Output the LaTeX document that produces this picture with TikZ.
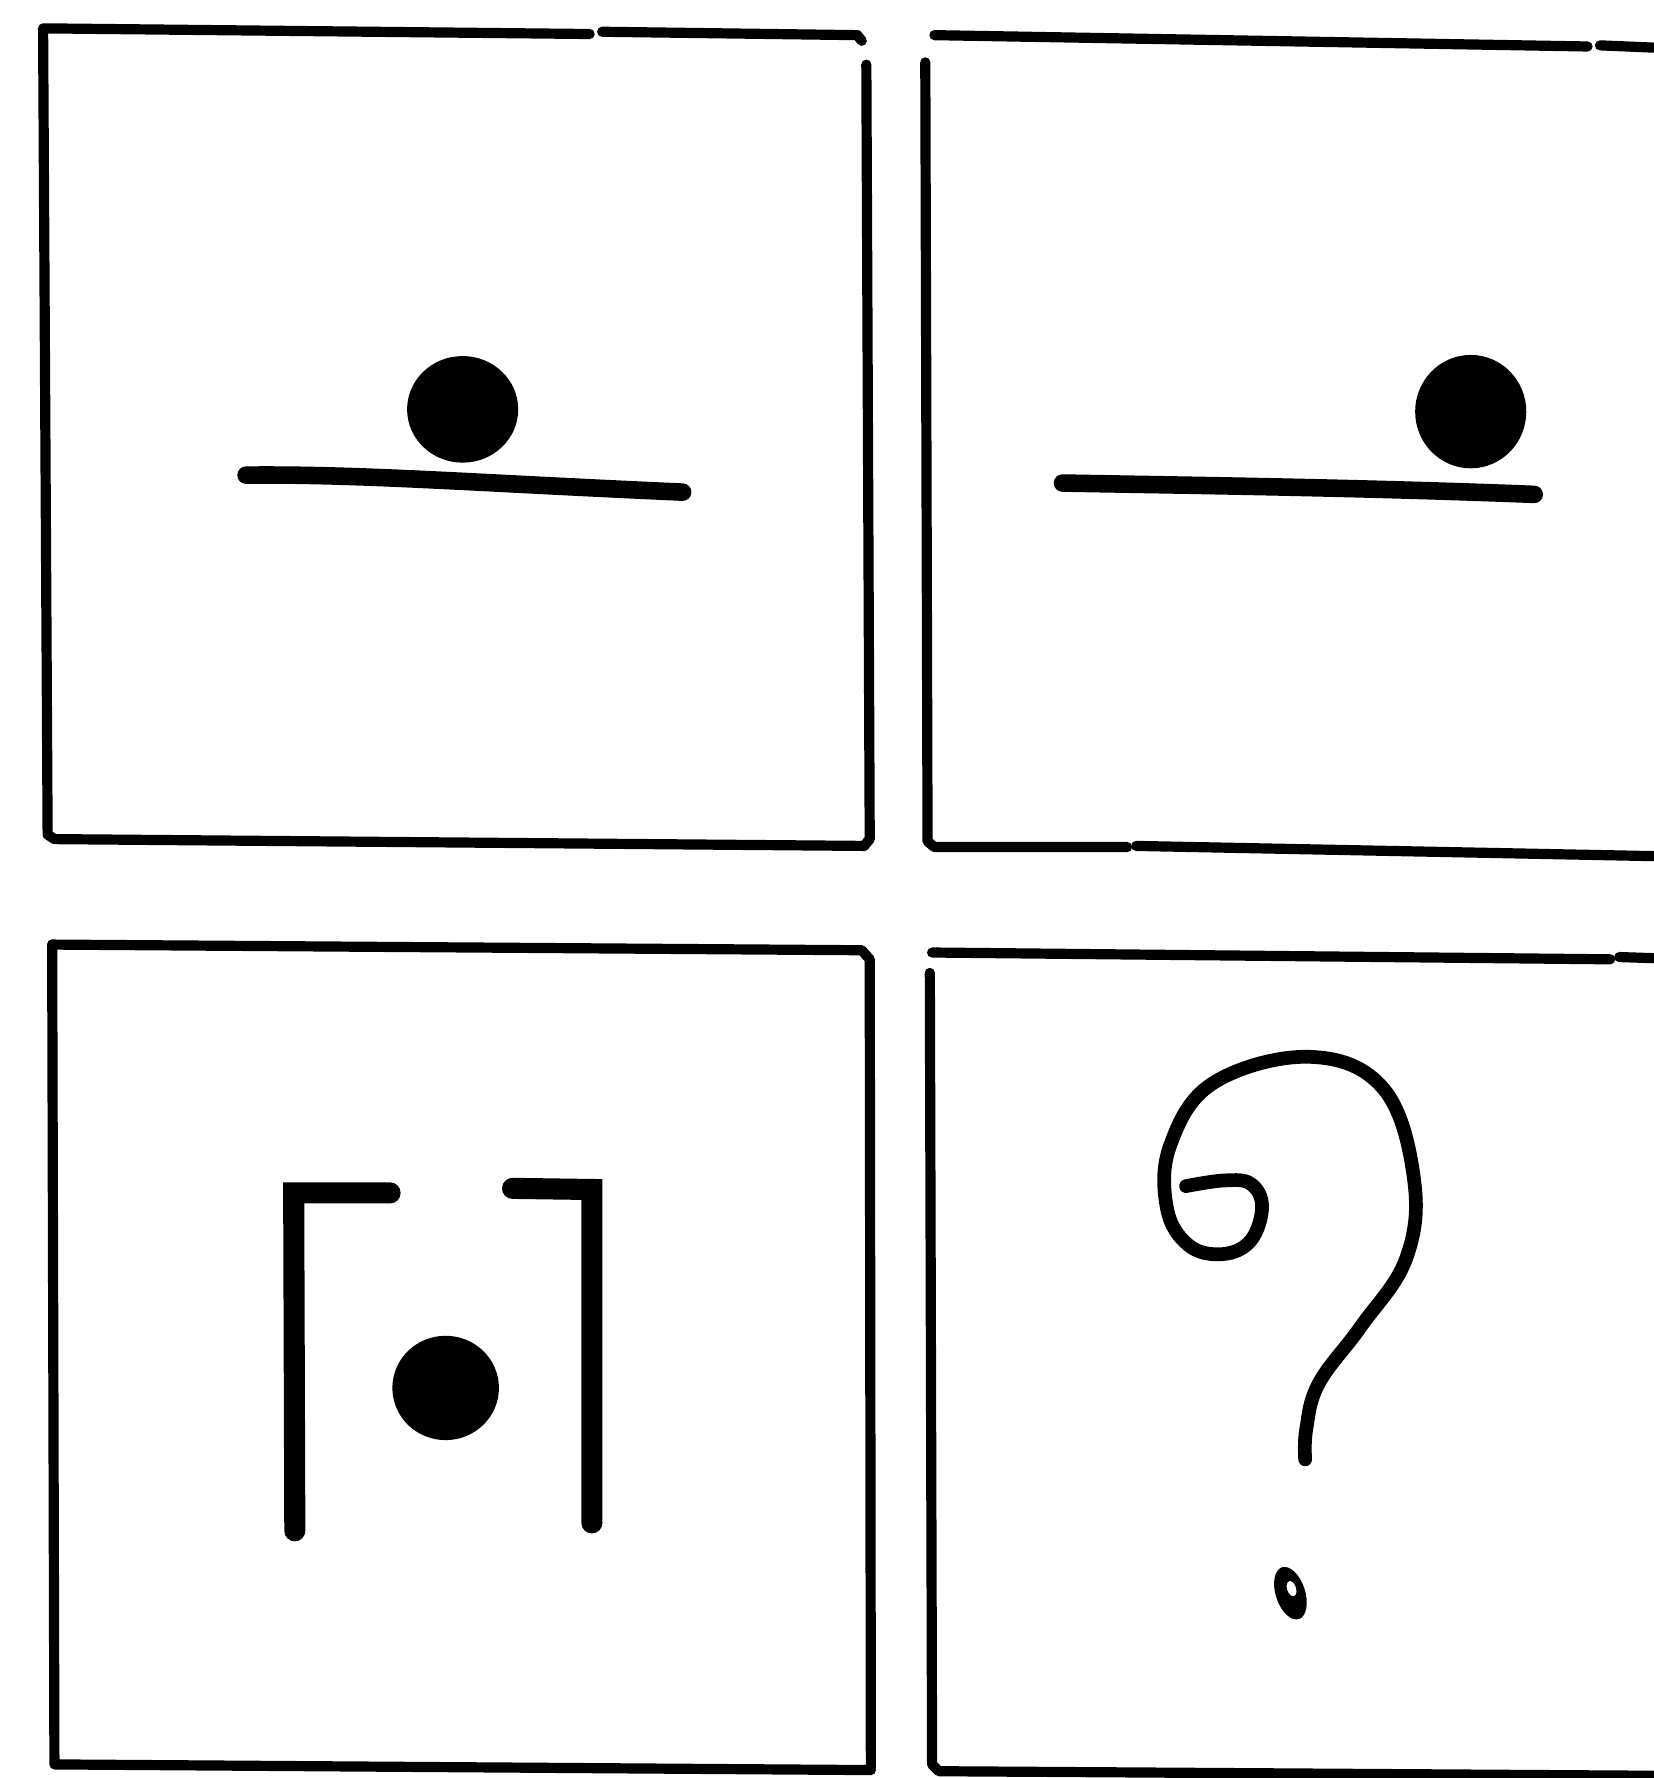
\documentclass[tikz,border=0pt]{standalone}
\begin{document}
\begin{tikzpicture}[x=0.011337cm,y=-0.011337cm,
  frame/.style={line width=2.9pt,line cap=round,line join=round},
  bar/.style={line width=5pt,line cap=round},
  brk/.style={line width=6pt,line cap=round,line join=miter},
  qstroke/.style={line width=3.9pt,line cap=round,line join=round}]
\useasboundingbox (0,0) rectangle (1458,1568);
% ---- top left panel
\draw[frame] (520,30) -- (38,25) -- (42,736) -- (48,740) -- (762,746) -- (767,740) -- (764,57);
\draw[frame] (531,28) -- (756,31) -- (760,36);
\fill (408,361) ellipse [x radius=49, y radius=47];
\draw[bar] (217,419) .. controls (320,418) and (420,426) .. (602,434);
% ---- top right panel
\draw[frame] (824,31) -- (1400,41);
\draw[frame] (1411,40) -- (1458,42);
\draw[frame] (816,55) -- (818,742) -- (824,747) -- (994,747);
\draw[frame] (1002,746) -- (1458,755);
\fill (1297,363) ellipse [x radius=49, y radius=50];
\draw[bar] (937,426) .. controls (1050,428) and (1200,430) .. (1353,436);
% ---- bottom left panel
\draw[frame] (46,833) -- (760,838) -- (767,846) -- (768,1559);
\draw[frame] (46,833) -- (48,1556) -- (768,1561);
\fill (393,1224) ellipse [x radius=47, y radius=46];
\draw[brk] (260,1350) -- (259,1052) -- (344,1052);
\draw[brk] (452,1048) -- (522,1049) -- (522,1343);
% ---- bottom right panel
\draw[frame] (822,840) -- (1420,846);
\draw[frame] (1428,844) -- (1458,845);
\draw[frame] (820,858) -- (822,1556) -- (828,1562) -- (1458,1566);
\draw[qstroke] plot[smooth,tension=0.65] coordinates {
  (1046,1046) (1080,1041) (1103,1044) (1113,1064) (1103,1094) (1078,1106)
  (1048,1098) (1029,1065) (1032,1010) (1070,955) (1155,932) (1220,960)
  (1247,1040) (1240,1110) (1200,1170) (1163,1220) (1152,1260) (1151,1287)};
\fill[even odd rule] (1138,1405) ellipse [x radius=13, y radius=24, rotate=18]
  (1139,1401) ellipse [x radius=4, y radius=7, rotate=18];
\end{tikzpicture}
\end{document}
